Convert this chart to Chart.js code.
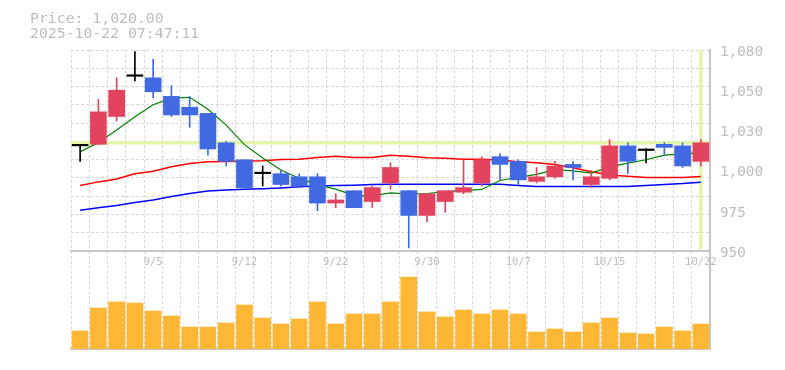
<!DOCTYPE html>
<html><head><meta charset="utf-8">
<script src="https://cdn.jsdelivr.net/npm/chart.js@4"></script>
<style>
html,body{margin:0;padding:0;background:#fff;}
#wrap{position:relative;width:785px;height:370px;overflow:hidden;background:#fff;}
canvas{position:absolute;left:0;top:0;}
#hdr{position:absolute;left:30px;top:10px;font:14.8px/15px "DejaVu Sans Mono",monospace;color:#bdbdbd;white-space:pre;z-index:3;}
</style></head><body>
<div id="wrap">
<canvas id="vol" width="785" height="370"></canvas>
<canvas id="price" width="785" height="370"></canvas>
<div id="hdr"><div id="l1"></div><div id="l2"></div></div>
</div>
<script>
const dates = ['9/1','9/2','9/3','9/4','9/5','9/8','9/9','9/10','9/11','9/12','9/16','9/17','9/18','9/19','9/22','9/24','9/25','9/26','9/29','9/30','10/1','10/2','10/3','10/6','10/7','10/8','10/9','10/10','10/14','10/15','10/16','10/17','10/20','10/21','10/22'];
const tickDates = ['9/5','9/12','9/22','9/30','10/7','10/15','10/22'];
const opens  = [1018,1019,1037,1063,1062,1050,1043,1039,1020,1009,1000,1000,998,998,981,989,982,994,989,973,982,988,994,1011,1008,995,998,1006,993,997,1018,1015,1019,1018,1008];
const highs  = [1019,1048,1062,1079,1074,1057,1050,1039,1021,1009,1005,1002,1000,1000,987,989,992,1007,989,987,989,1009,1011,1013,1009,1004,1008,1008,1002,1022,1020,1016,1020,1020,1022];
const lows   = [1008,1019,1034,1060,1049,1037,1030,1012,1005,990,992,992,991,976,978,978,978,990,952,969,975,987,992,996,993,994,997,996,991,996,1000,1007,1012,1004,1005];
const closes = [1018,1040,1054,1063,1053,1038,1038,1016,1008,991,1000,993,992,981,983,978,991,1004,973,987,989,991,1009,1006,996,998,1005,1004,998,1018,1008,1015,1017,1005,1020];
const ma5  = [1014.1,1020.2,1028.2,1036.8,1044.6,1048.9,1049.4,1041.7,1031.4,1018.8,1010.2,1002.4,997.1,992.8,990.0,986.0,985.6,987.6,986.8,987.2,988.4,989.1,989.8,995.6,997.6,999.6,1002.6,1001.8,1000.4,1004.4,1006.8,1009.0,1012.0,1012.8,1013.4];
const ma25 = [992.4,994.7,996.6,999.9,1001.6,1004.5,1006.6,1007.8,1007.9,1008.0,1008.3,1009.2,1009.4,1010.5,1011.3,1010.5,1010.5,1012.0,1011.3,1010.3,1010.0,1009.4,1009.3,1008.8,1007.8,1007.0,1006.0,1003.8,1001.2,999.2,998.4,997.5,997.5,997.5,998.2];
const ma75 = [976.3,978.0,979.5,981.3,983.0,985.2,987.2,988.8,989.4,990.0,990.3,990.8,991.5,992.1,992.4,992.6,993.0,993.2,993.2,993.2,993.2,993.2,993.2,993.2,992.4,991.7,991.7,991.7,991.7,991.7,991.7,992.4,993.0,993.6,994.5];
const volumes = [18400,41800,48000,46900,38800,33700,22400,22400,26500,44900,31600,25500,30600,48000,25500,35700,35700,48000,73500,37800,32700,39800,35700,39800,35700,17300,20400,17300,26500,31600,16300,15300,22400,18400,25500];
const yTickLabels = ['950','975','1,000','1,030','1,050','1,080'];
const timestamp = '2025-10-22 07:47:11';

const FONT = '"DejaVu Sans Mono", monospace';
const TXT = '#bdbdbd';
const GRID = '#d8d8d8';
const EDGE = '#c6c6c6';
const UP = '#e2445f', DOWN = '#4169e1', DOJI = '#000000';
const yMin = 950, yMax = 1080;

const last = closes.length - 1;
document.getElementById('l1').textContent = 'Price: ' + closes[last].toLocaleString('en-US',{minimumFractionDigits:2, maximumFractionDigits:2});
document.getElementById('l2').textContent = timestamp;

const candleColors = closes.map((c,i)=> c > opens[i] ? UP : (c < opens[i] ? DOWN : DOJI));

const highlight = {
  id:'hl',
  beforeDatasetsDraw(chart){
    const {ctx, chartArea:a, scales} = chart;
    const yy = scales.y.getPixelForValue(closes[last]);
    const xx = scales.x.getPixelForValue(last);
    ctx.save();
    ctx.fillStyle = '#e2f5a9';
    ctx.fillRect(a.left, yy - 1.75, a.right - a.left - 1, 3.5);
    ctx.fillRect(xx - 1.75, a.top + 1, 3.5, a.bottom - a.top - 3);
    ctx.restore();
  }
};

new Chart(document.getElementById('price'), {
  type:'bar',
  data:{
    labels: dates,
    datasets:[
      {type:'bar', data: opens.map((o,i)=>[o, closes[i]]), backgroundColor: candleColors, barThickness:16, minBarLength:1.5, grouped:false, order:0, yAxisID:'y'},
      {type:'bar', data: lows.map((l,i)=>[l, highs[i]]), backgroundColor: candleColors, barThickness:1, grouped:false, order:1, yAxisID:'y'},
      {type:'line', data: ma5, borderColor:'#008000', borderWidth:1.2, pointRadius:0, fill:false, tension:0, order:2, yAxisID:'y'},
      {type:'line', data: ma25, borderColor:'#ff0000', borderWidth:1.5, pointRadius:0, fill:false, tension:0, order:3, yAxisID:'y'},
      {type:'line', data: ma75, borderColor:'#0000ff', borderWidth:1.5, pointRadius:0, fill:false, tension:0, order:4, yAxisID:'y'}
    ]
  },
  options:{
    responsive:false, animation:false, devicePixelRatio:1,
    layout:{padding:{left:71, top:50, right:0, bottom:99}},
    plugins:{legend:{display:false}, tooltip:{enabled:false}},
    scales:{
      x:{
        type:'category', offset:true,
        grid:{offset:true, color:GRID, lineWidth:1, drawTicks:false},
        border:{display:true, color:EDGE, width:2, dash:[3,2]},
        ticks:{autoSkip:false, maxRotation:0, minRotation:0, padding:5, color:TXT, font:{family:FONT, size:10.5},
          callback:(v,i)=> tickDates.includes(dates[i]) ? dates[i] : ''},
        afterFit:s=>{s.height = 20;}
      },
      y:{
        position:'right', min:yMin, max:yMax,
        afterBuildTicks:s=>{ s.ticks = yTickLabels.map((_,i)=>({value: yMin + i*(yMax-yMin)/(yTickLabels.length-1)})); },
        grid:{display:false, drawTicks:false},
        border:{display:true, color:EDGE, width:2},
        ticks:{padding:10, labelOffset:2, color:TXT, font:{family:FONT, size:14.3}, callback:(v,i)=> yTickLabels[i]},
        afterFit:s=>{s.width = 75;}
      },
      yg:{
        position:'right', min:yMin, max:yMax,
        afterBuildTicks:s=>{ s.ticks = Array.from({length:12},(_,i)=>({value: yMin + i*(yMax-yMin)/11})); },
        grid:{color:GRID, lineWidth:1, drawTicks:false},
        border:{display:false, dash:[3,2]},
        ticks:{display:false},
        afterFit:s=>{s.width = 0;}
      }
    }
  },
  plugins:[highlight]
});

new Chart(document.getElementById('vol'), {
  type:'bar',
  data:{
    labels: dates,
    datasets:[{data: volumes, backgroundColor:'#fdb734', barThickness:16}]
  },
  options:{
    responsive:false, animation:false, devicePixelRatio:1,
    layout:{padding:{left:71, top:251, right:0, bottom:21}},
    plugins:{legend:{display:false}, tooltip:{enabled:false}},
    scales:{
      x:{
        type:'category', offset:true,
        grid:{offset:true, color:GRID, lineWidth:1, drawTicks:false},
        border:{display:true, color:EDGE, width:2, dash:[3,2]},
        ticks:{display:false},
        afterFit:s=>{s.height = 0;}
      },
      y:{
        position:'right', min:0, max:100000,
        grid:{display:false, drawTicks:false},
        border:{display:true, color:EDGE, width:2},
        ticks:{display:false},
        afterFit:s=>{s.width = 75;}
      }
    }
  }
});
</script>
</body></html>
